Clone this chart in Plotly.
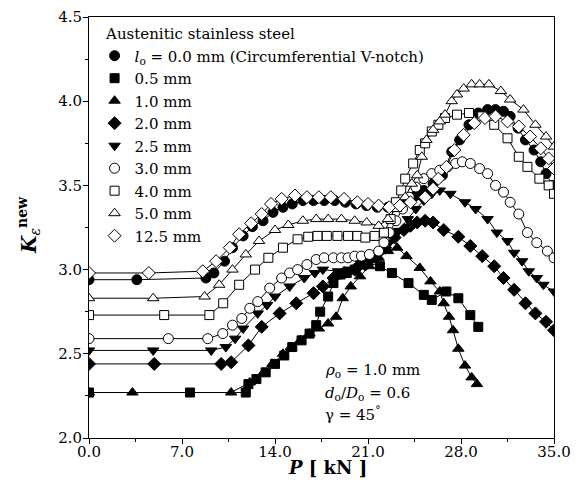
import plotly.graph_objects as go

FONT = "DejaVu Serif"

legend_title = "&nbsp;&nbsp;Austenitic stainless steel"
labels = ["<i>l</i><sub>o</sub> = 0.0 mm (Circumferential V-notch)", "0.5 mm", "1.0 mm",
          "2.0 mm", "2.5 mm", "3.0 mm", "4.0 mm", "5.0 mm", "12.5 mm"]

x_ticks = [0, 7, 14, 21, 28, 35]
x_ticktext = ["0.0", "7.0", "14.0", "21.0", "28.0", "35.0"]

# l0 = 0.0 mm (filled circle)
p_00 = [0, 3.6, 8.8, 9.4, 10.2, 10.8, 11.6, 12.3, 13.1, 13.85, 14.6, 15.3, 16.1, 16.9, 17.7, 18.5,
        19.3, 20.1, 20.9, 21.7, 22.5, 23.3, 24.0, 24.6, 25.2, 25.9, 26.6, 27.3, 27.9, 28.6, 29.3,
        30.0, 30.6, 31.2, 31.7, 32.3, 32.85, 33.5, 34.0, 34.4, 34.9]
k_00 = [2.94, 2.94, 2.95, 2.98, 3.05, 3.13, 3.20, 3.255, 3.29, 3.34, 3.37, 3.39, 3.41, 3.41, 3.41, 3.41,
        3.40, 3.39, 3.38, 3.37, 3.37, 3.39, 3.42, 3.44, 3.47, 3.51, 3.56, 3.70, 3.77, 3.86, 3.93,
        3.95, 3.95, 3.94, 3.91, 3.84, 3.77, 3.71, 3.64, 3.57, 3.50]

# 0.5 mm (filled square)
p_05 = [0, 7.6, 11.8, 12.0, 12.6, 13.3, 14.0, 14.7, 15.3, 16.0, 16.6, 17.1, 17.4, 18.0, 18.4, 18.75,
        19.4, 20.0, 20.4, 21.0, 21.9, 22.8, 24.05, 25.2, 25.8, 26.9, 27.8, 28.7, 29.3]
k_05 = [2.27, 2.27, 2.27, 2.32, 2.35, 2.39, 2.44, 2.49, 2.54, 2.58, 2.62, 2.67, 2.75, 2.84, 2.92, 2.97,
        2.98, 3.00, 3.03, 3.04, 3.02, 2.98, 2.92, 2.85, 2.82, 2.87, 2.83, 2.73, 2.66]

# 1.0 mm (filled triangle)
p_10 = [0, 3.27, 10.7, 12.1, 13.1, 13.8, 14.6, 15.2, 15.9, 16.6, 17.3, 18.0, 18.6, 19.1, 19.7, 20.4,
        21.1, 21.8, 22.5, 23.2, 23.9, 24.9, 25.7, 26.4, 26.7, 27.1, 27.4, 27.8, 28.3, 28.8, 29.2]
k_10 = [2.27, 2.27, 2.27, 2.33, 2.385, 2.44, 2.50, 2.54, 2.58, 2.62, 2.65, 2.68, 2.72, 2.83, 2.90, 2.96,
        3.02, 3.07, 3.11, 3.13, 3.08, 3.01, 2.93, 2.87, 2.80, 2.72, 2.64, 2.53, 2.43, 2.36, 2.32]

# 2.0 mm (filled diamond)
p_20 = [0, 4.91, 9.95, 10.7, 12.0, 13.0, 14.35, 15.6, 16.9, 17.6, 18.4, 19.2, 20.0, 20.8, 21.6, 22.3,
        23.0, 23.7, 24.2, 24.7, 25.3, 25.9, 26.7, 27.8, 28.7, 29.6, 30.5, 31.2, 32.0, 32.85, 33.6, 34.4, 35.0]
k_20 = [2.44, 2.44, 2.44, 2.45, 2.55, 2.66, 2.74, 2.80, 2.86, 2.90, 2.95, 2.98, 3.00, 3.03, 3.07, 3.13,
        3.19, 3.235, 3.26, 3.28, 3.29, 3.28, 3.235, 3.195, 3.14, 3.08, 3.02, 2.95, 2.88, 2.80, 2.74, 2.69, 2.64]

# 2.5 mm (filled inverted triangle)
p_25 = [0, 4.83, 9.2, 10.3, 11.0, 11.6, 12.7, 13.4, 14.0, 15.1, 16.2, 17.0, 17.6, 18.75, 19.6, 20.4,
        21.2, 21.9, 22.6, 23.3, 24.0, 24.6, 25.2, 25.8, 26.4, 27.2, 28.3, 29.1, 30.0, 30.7, 31.5, 32.0,
        32.6, 33.1, 33.7, 34.2, 35.0]
k_25 = [2.52, 2.52, 2.52, 2.54, 2.59, 2.65, 2.74, 2.79, 2.84, 2.90, 2.95, 2.98, 3.00, 2.99, 3.00, 3.02,
        3.05, 3.10, 3.16, 3.23, 3.30, 3.36, 3.41, 3.45, 3.47, 3.45, 3.40, 3.36, 3.30, 3.22, 3.17, 3.10,
        3.05, 2.99, 2.95, 2.91, 2.87]

# 3.0 mm (open circle)
p_30 = [0, 5.97, 8.94, 10.07, 10.8, 11.5, 12.1, 12.7, 13.6, 14.5, 15.1, 15.7, 16.4, 17.1, 17.7, 18.4,
        19.0, 19.5, 20.0, 20.5, 21.1, 21.8, 22.2, 22.6, 23.1, 23.6, 24.1, 24.6, 25.2, 25.8, 26.4, 27.0,
        27.6, 28.1, 28.7, 29.4, 30.0, 30.6, 31.2, 31.7, 32.35, 33.0, 33.7, 34.5, 35.0]
k_30 = [2.59, 2.59, 2.59, 2.62, 2.67, 2.71, 2.77, 2.81, 2.89, 2.95, 2.98, 3.00, 3.03, 3.06, 3.07, 3.07,
        3.07, 3.07, 3.08, 3.08, 3.09, 3.11, 3.16, 3.22, 3.29, 3.36, 3.43, 3.49, 3.54, 3.57, 3.59, 3.61,
        3.63, 3.64, 3.63, 3.60, 3.57, 3.50, 3.46, 3.40, 3.33, 3.22, 3.16, 3.11, 3.07]

# 4.0 mm (open square)
p_40 = [0, 5.66, 9.06, 10.1, 11.3, 12.5, 13.5, 14.6, 15.7, 16.5, 17.2, 17.9, 18.7, 19.5, 20.2, 20.8,
        21.5, 22.2, 22.7, 23.1, 23.5, 23.8, 24.4, 24.9, 25.3, 25.8, 26.3, 26.8, 27.7, 28.6, 29.6, 30.5,
        31.5, 32.35, 33.0, 33.9, 34.6, 35.0]
k_40 = [2.73, 2.73, 2.73, 2.80, 2.91, 3.00, 3.07, 3.13, 3.18, 3.195, 3.20, 3.20, 3.20, 3.20, 3.20, 3.19,
        3.20, 3.22, 3.30, 3.40, 3.47, 3.54, 3.63, 3.71, 3.75, 3.82, 3.86, 3.90, 3.92, 3.93, 3.91, 3.86,
        3.78, 3.67, 3.61, 3.54, 3.50, 3.45]

# 5.0 mm (open triangle)
p_50 = [0, 4.83, 8.7, 9.8, 10.8, 11.8, 12.8, 14.0, 15.0, 16.1, 17.1, 18.0, 19.0, 20.0, 20.9, 21.8,
        22.5, 23.1, 23.8, 24.3, 24.7, 25.05, 25.4, 25.9, 26.4, 26.8, 27.3, 27.7, 28.2, 28.8, 29.4, 30.1,
        31.0, 31.7, 32.7, 33.6, 34.4, 35.0]
k_50 = [2.83, 2.83, 2.84, 2.91, 3.00, 3.09, 3.17, 3.235, 3.265, 3.29, 3.30, 3.30, 3.30, 3.29, 3.28, 3.26,
        3.30, 3.36, 3.43, 3.51, 3.56, 3.67, 3.77, 3.83, 3.88, 3.92, 4.00, 4.04, 4.075, 4.10, 4.10, 4.10,
        4.06, 4.01, 3.95, 3.86, 3.79, 3.73]

# 12.5 mm (open diamond)
p_125 = [0, 4.5, 8.56, 9.57, 10.6, 11.3, 12.2, 13.0, 13.7, 14.5, 15.5, 16.4, 17.3, 18.2, 19.2, 20.2,
         21.0, 21.8, 22.6, 23.4, 24.2, 25.3, 25.9, 26.3, 26.9, 27.5, 28.2, 29.0, 29.8, 30.6, 31.5, 32.35,
         33.2, 34.0, 34.6, 35.0]
k_125 = [2.98, 2.98, 2.99, 3.05, 3.13, 3.21, 3.275, 3.33, 3.39, 3.42, 3.44, 3.43, 3.43, 3.43, 3.42, 3.40,
         3.39, 3.38, 3.37, 3.38, 3.40, 3.43, 3.48, 3.54, 3.61, 3.71, 3.80, 3.87, 3.90, 3.91, 3.88, 3.85,
         3.79, 3.72, 3.66, 3.60]

series = [
    (p_00, k_00, "circle", "black", 10),
    (p_05, k_05, "square", "black", 9),
    (p_10, k_10, "triangle-up", "black", 10),
    (p_20, k_20, "diamond", "black", 10),
    (p_25, k_25, "triangle-down", "black", 10),
    (p_30, k_30, "circle", "white", 10),
    (p_40, k_40, "square", "white", 9),
    (p_50, k_50, "triangle-up", "white", 10),
    (p_125, k_125, "diamond", "white", 10),
]

fig = go.Figure()
# connecting lines
for i, (px, ky, sym, fill, sz) in enumerate(series):
    fig.add_trace(go.Scatter(x=px, y=ky, mode="lines", line=dict(color="black", width=1),
                             showlegend=False, legendgroup=str(i), hoverinfo="skip"))
# markers (legend)
for i, (px, ky, sym, fill, sz) in enumerate(series):
    fig.add_trace(go.Scatter(x=px, y=ky, mode="markers", name=labels[i], legendgroup=str(i),
                             marker=dict(symbol=sym, size=sz, color=fill,
                                         line=dict(color="black", width=1))))

axis_common = dict(showline=True, linecolor="black", linewidth=1, mirror=True, showgrid=False,
                   zeroline=False, ticks="outside", ticklen=5, tickcolor="black", automargin=False,
                   tickfont=dict(family=FONT, size=15, color="black"))

fig.update_xaxes(range=[0, 35], tickvals=x_ticks, ticktext=x_ticktext, ticklabelstandoff=-5,
                 minor=dict(dtick=3.5, tick0=0, ticks="outside", ticklen=3, tickcolor="black"),
                 **axis_common)
fig.update_yaxes(range=[2.0, 4.5], dtick=0.5, tick0=2.0, tickformat=".1f", ticklabelstandoff=-2,
                 minor=dict(dtick=0.25, tick0=2.0, ticks="outside", ticklen=3, tickcolor="black"),
                 **axis_common)

annotations = [
    dict(text="<b><i>P</i> [ kN ]</b>", x=0.513, y=-0.07, xref="paper", yref="paper",
         showarrow=False, font=dict(family=FONT, size=18, color="black"), yanchor="middle"),
    dict(text="<b><i>K</i></b><sub><i>ε</i></sub><sup><b>new</b></sup>", x=-0.13, y=0.505,
         xref="paper", yref="paper", textangle=-90, showarrow=False,
         font=dict(family=FONT, size=20, color="black"), xanchor="center", yanchor="middle"),
    dict(text="<i>ρ</i><sub>o</sub> = 1.0 mm", x=17.6, y=2.398, xref="x", yref="y",
         showarrow=False, xanchor="left", yanchor="middle", font=dict(family=FONT, size=15, color="black")),
    dict(text="<i>d</i><sub>o</sub>/<i>D</i><sub>o</sub> = 0.6", x=17.6, y=2.265, xref="x", yref="y",
         showarrow=False, xanchor="left", yanchor="middle", font=dict(family=FONT, size=15, color="black")),
    dict(text="γ = 45<sup>°</sup>", x=17.6, y=2.145, xref="x", yref="y",
         showarrow=False, xanchor="left", yanchor="middle", font=dict(family=FONT, size=15, color="black")),
]

# the page body adds an 8 px offset, so the figure is 8 px smaller each way
fig.update_layout(
    width=571, height=476,
    margin=dict(l=81, r=25, t=9, b=46),
    paper_bgcolor="white", plot_bgcolor="white",
    font=dict(family=FONT, size=15, color="black"),
    legend=dict(x=0.012, y=0.993, xanchor="left", yanchor="top", bgcolor="rgba(0,0,0,0)",
                title=dict(text=legend_title, font=dict(family=FONT, size=15, color="black")),
                font=dict(family=FONT, size=15, color="black"), tracegroupgap=0),
    annotations=annotations,
)

fig.write_html("out.html")
